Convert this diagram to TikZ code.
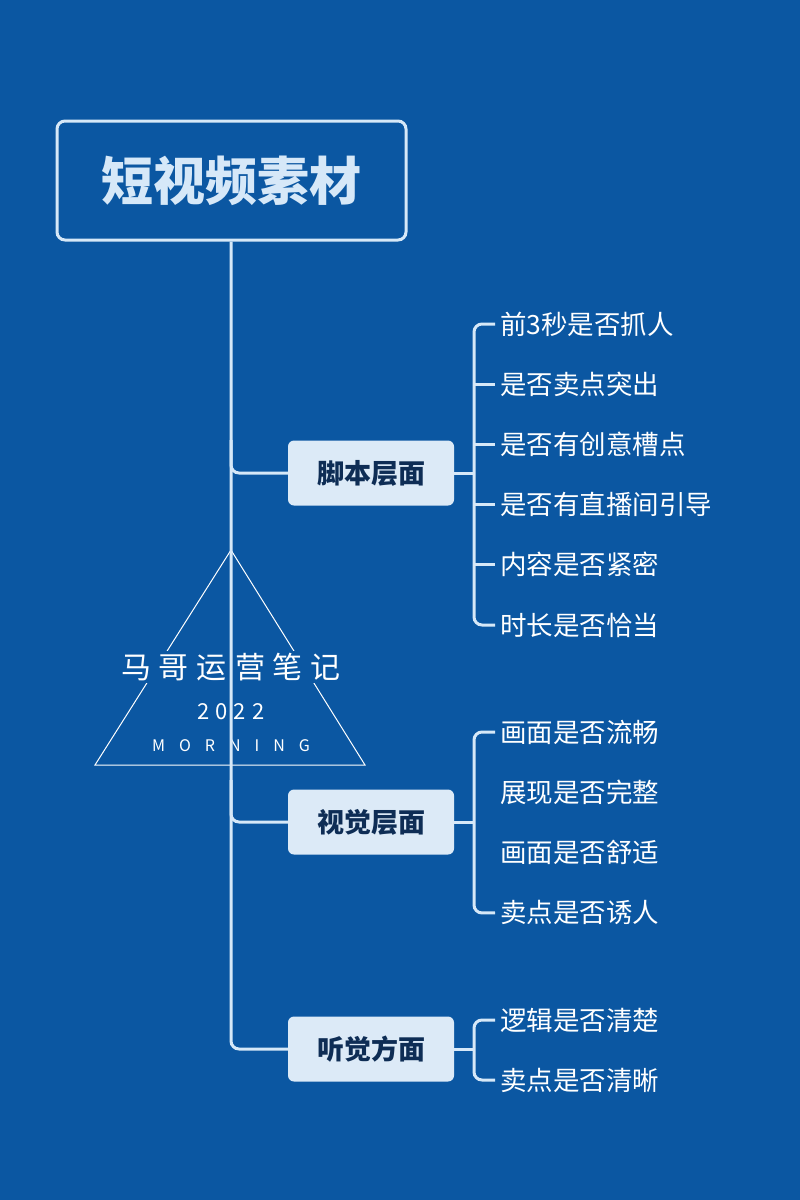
\documentclass[tikz,border=0pt]{standalone}
\usepackage{fontspec}
\setmainfont{Noto Sans CJK SC}
\definecolor{bg}{HTML}{0B57A2}
\definecolor{ln}{HTML}{D6E8F8}
\definecolor{boxfill}{HTML}{DCEAF7}
\definecolor{boxtext}{HTML}{0E2D55}
\begin{document}
\begin{tikzpicture}[x=1pt,y=-1pt,
  wire/.style={draw=ln,line width=3pt,rounded corners=8pt},
  catbox/.style={fill=boxfill,rounded corners=6pt,minimum width=166pt,minimum height=65pt,text=boxtext,font=\fontsize{27}{30}\selectfont\bfseries},
  leaf/.style={anchor=west,text=white,font=\fontsize{26.5}{30}\selectfont,inner sep=0pt}]
\fill[bg] (0,0) rectangle (800,1200);
\useasboundingbox (0,0) rectangle (800,1200);
% watermark
\draw[white,line width=1pt] (231,550) -- (95,765) -- (365,765) -- cycle;
\node[fill=bg,text=white,font=\fontsize{30}{34}\selectfont,inner sep=2pt] (wm1) at (231,667) {马\hspace{8pt}哥\hspace{8pt}运\hspace{8pt}营\hspace{8pt}笔\hspace{8pt}记};
\node[fill=bg,text=white,font=\fontsize{22}{26}\selectfont,inner sep=2pt] (wm2) at (231,712) {2\hspace{6pt}0\hspace{6pt}2\hspace{6pt}2};
\node[fill=bg,text=white,font=\fontsize{16}{18}\selectfont,inner sep=2pt] (wm3) at (231,746) {M\hspace{14pt}O\hspace{14pt}R\hspace{14pt}N\hspace{14pt}I\hspace{14pt}N\hspace{14pt}G};
% title
\node[draw=ln,line width=3pt,rounded corners=8pt,minimum width=349pt,minimum height=119pt,text=ln,font=\fontsize{52}{58}\selectfont\bfseries] (title) at (231.5,180.5) {短视频素材};
% categories
\node[catbox] (c1) at (371,473) {脚本层面};
\node[catbox] (c2) at (371,822) {视觉层面};
\node[catbox] (c3) at (371,1049) {听觉方面};
\draw[wire] (title.south -| 231,0) -- (231,1049) -- (c3.west);
\draw[wire] (231,440) -- (231,473) -- (c1.west);
\draw[wire] (231,780) -- (231,822) -- (c2.west);
% leaves
\foreach \t [count=\i] in {前3秒是否抓人,是否卖点突出,是否有创意槽点,是否有直播间引导,内容是否紧密,时长是否恰当}
  \node[leaf] (a\i) at (500,{324+60.2*(\i-1)}) {\t};
\foreach \t [count=\i] in {画面是否流畅,展现是否完整,画面是否舒适,卖点是否诱人}
  \node[leaf] (b\i) at (500,{732+60.3*(\i-1)}) {\t};
\foreach \t [count=\i] in {逻辑是否清楚,卖点是否清晰}
  \node[leaf] (d\i) at (500,{1020+60*(\i-1)}) {\t};
% brackets
\draw[wire] (c1.east) -- (474,473);
\draw[wire] ([xshift=-5pt]a1.west) -- (474,324) -- (474,625) -- ([xshift=-5pt]a6.west);
\foreach \i in {2,...,5} \draw[wire] (474,{324+60.2*(\i-1)}) -- ([xshift=-5pt]a\i.west);
\draw[wire] (c2.east) -- (474,822);
\draw[wire] ([xshift=-5pt]b1.west) -- (474,732) -- (474,913) -- ([xshift=-5pt]b4.west);
\draw[wire] (c3.east) -- (474,1049);
\draw[wire] ([xshift=-5pt]d1.west) -- (474,1020) -- (474,1080) -- ([xshift=-5pt]d2.west);
\end{tikzpicture}
\end{document}
